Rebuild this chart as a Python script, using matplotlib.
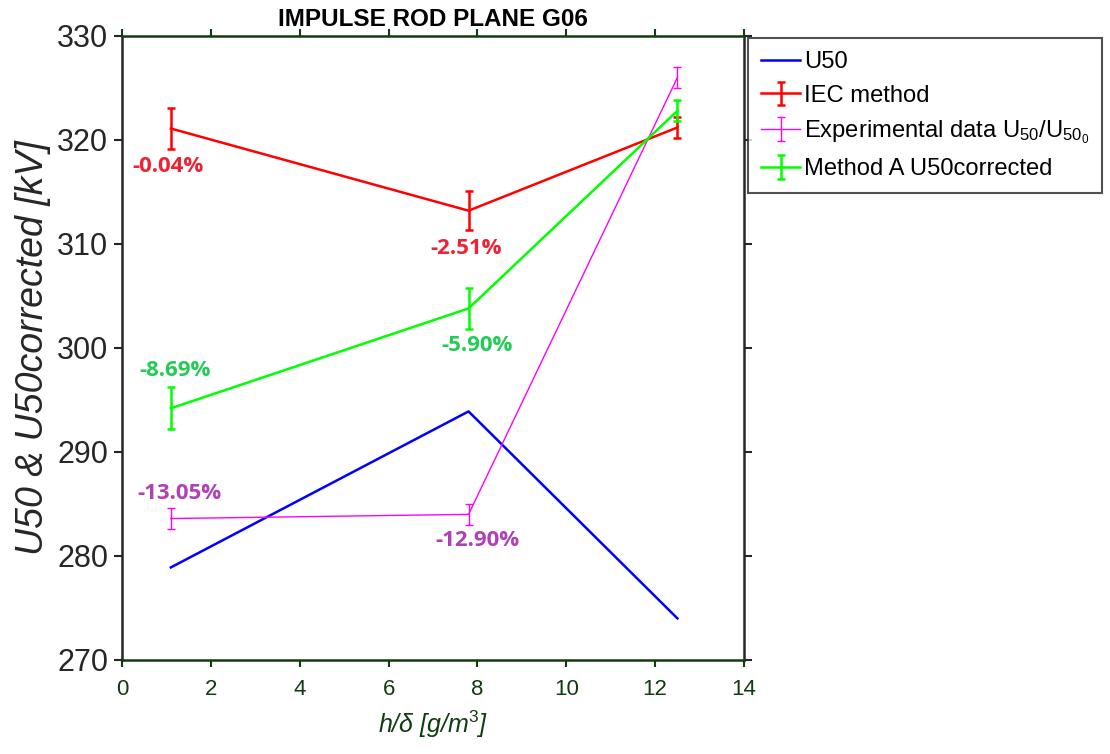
import matplotlib.pyplot as plt
import numpy as np

plt.rcParams['font.family'] = ['Liberation Sans', 'DejaVu Sans']
plt.rcParams['mathtext.fontset'] = 'custom'
plt.rcParams['mathtext.rm'] = 'Liberation Sans'
plt.rcParams['mathtext.it'] = 'Liberation Sans:italic'

# humidity / relative air density
hd = [1.1, 7.8, 12.5]

u50 = [278.9, 293.9, 274.0]

iec = [321.1, 313.2, 321.2]
iec_err = [2.0, 1.9, 1.0]
iec_pct = ['-0.04%', '-2.51%']

exp_ratio = [283.6, 284.0, 326.0]
exp_err = [1.05, 1.0, 1.0]
exp_pct = ['-13.05%', '-12.90%']

meth_a = [294.2, 303.8, 322.8]
meth_a_err = [2.0, 2.0, 1.0]
meth_a_pct = ['-8.69%', '-5.90%']

dark_green = '#0f3d0f'
dark_gray = '#262626'

fig = plt.figure(figsize=(11.1, 7.54), dpi=100)
ax = fig.add_axes([0.1099, 0.1247, 0.5604, 0.8276])

ax.plot(hd, u50, color='#0000ff', lw=1.8, label='U50')
ax.errorbar(hd, iec, yerr=iec_err, color='#ff0000', lw=1.8, capsize=3,
            capthick=1.8, label='IEC method')
ax.errorbar(hd, exp_ratio, yerr=exp_err, color='#ff00ff', lw=1.0, capsize=3,
            capthick=1.0, label=r'Experimental data $\mathregular{U_{50}/U_{50_0}}$')
ax.errorbar(hd, meth_a, yerr=meth_a_err, color='#00ff00', lw=1.8, capsize=3,
            capthick=1.8, label='Method A U50corrected')

# percentage deviations next to the first two points (offsets in points)
pct_font = dict(family='Open Sans', weight='bold', fontsize=16)
iec_off = [(-2, -27), (-1.5, -27)]
meth_a_off = [(3, 27), (6, -27)]
exp_off = [(6.5, 18), (6.5, -19)]
for vals, labels, offs, col in [(iec, iec_pct, iec_off, '#ee2233'),
                                (meth_a, meth_a_pct, meth_a_off, '#22cc55'),
                                (exp_ratio, exp_pct, exp_off, '#b040b8')]:
    for i, t in enumerate(labels):
        ax.annotate(t, (hd[i], vals[i]), xytext=offs[i],
                    textcoords='offset points', ha='center', va='center',
                    color=col, **pct_font)

ax.set_xlim(0, 14)
ax.set_ylim(270, 330)
ax.set_xticks(np.arange(0, 15, 2))
ax.set_yticks(np.arange(270, 331, 10))

ax.tick_params(axis='x', direction='out', top=True, length=5, width=1.5,
               colors=dark_green, labelsize=16, pad=9)
ax.tick_params(axis='y', direction='out', right=True, length=6, width=1.5,
               colors=dark_gray, labelsize=22, pad=4)
for s in ['top', 'bottom']:
    ax.spines[s].set_color(dark_green)
    ax.spines[s].set_linewidth(1.8)
for s in ['left', 'right']:
    ax.spines[s].set_color(dark_gray)
    ax.spines[s].set_linewidth(1.8)

ax.set_title('IMPULSE ROD PLANE G06', fontsize=17.5, fontweight='bold', pad=7)
ax.set_ylabel('U50 & U50corrected [kV]', fontsize=27, style='italic',
              color=dark_gray, labelpad=4)
ax.set_xlabel(r'h/δ [g/m$\mathit{^{3}}$]', fontsize=18, style='italic',
              color=dark_green, labelpad=6)

leg = ax.legend(loc='upper left', bbox_to_anchor=(1.0064, 0.997),
                borderaxespad=0, fontsize=17.1, frameon=True, fancybox=False,
                edgecolor=dark_gray, handlelength=1.65, handletextpad=0.15,
                borderpad=0.55, labelspacing=0.5)
leg.get_frame().set_linewidth(1.5)

plt.savefig('out.png', dpi=100)
